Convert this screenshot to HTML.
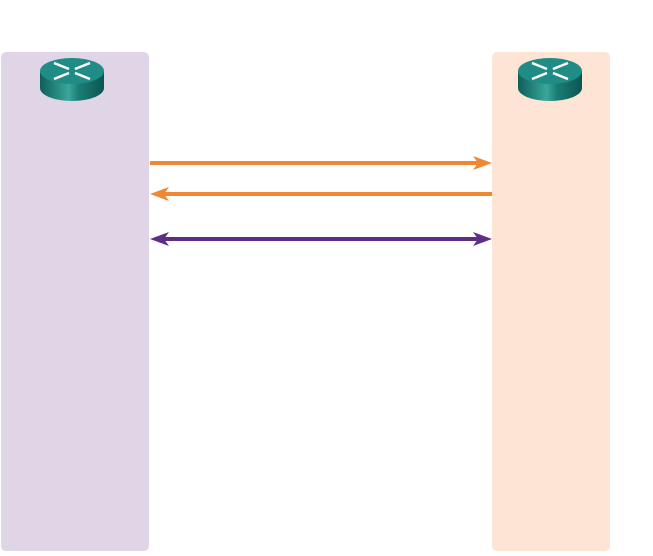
<!DOCTYPE html>
<html><head><style>
body{margin:0;width:653px;height:556px;background:#fff;position:relative;overflow:hidden}
.p{position:absolute;top:52px;height:499px;border-radius:5px}
</style></head><body>
<div class="p" style="left:1px;width:148px;background:#dfd5e7"></div>
<div class="p" style="left:492px;width:118px;background:#fde4d4"></div>
<svg width="653" height="556" style="position:absolute;left:0;top:0">
<defs>
<linearGradient id="g" x1="0" x2="1"><stop offset="0" stop-color="#0e5f5a"/><stop offset=".45" stop-color="#3aa69c"/><stop offset=".6" stop-color="#1a7e77"/><stop offset="1" stop-color="#0c5552"/></linearGradient>
<g id="r">
<path d="M0,15 L0,32 A32,13 0 0 0 64,32 L64,15 Z" fill="url(#g)"/>
<ellipse cx="32" cy="15" rx="32" ry="13" fill="#1f8c85"/>
<g stroke="#fff" stroke-width="2.5" fill="none">
<line x1="14" y1="7" x2="29" y2="13"/><line x1="50" y1="23" x2="35" y2="17"/>
<line x1="50" y1="7" x2="35" y2="13"/><line x1="14" y1="23" x2="29" y2="17"/>
</g></g>
</defs>
<use href="#r" x="40" y="56"/>
<use href="#r" x="518" y="56"/>
<g stroke-width="4">
<line x1="150" y1="163" x2="480" y2="163" stroke="#ef8733"/>
<line x1="160" y1="194" x2="492" y2="194" stroke="#ef8733"/>
<line x1="160" y1="239" x2="480" y2="239" stroke="#5e2e86"/>
</g>
<path d="M492,163 L473,156 L478,163 L473,170Z" fill="#ef8733"/>
<path d="M150,194 L169,187 L164,194 L169,201Z" fill="#ef8733"/>
<path d="M492,239 L473,232 L478,239 L473,246Z" fill="#5e2e86"/>
<path d="M150,239 L169,232 L164,239 L169,246Z" fill="#5e2e86"/>
</svg>
</body></html>
